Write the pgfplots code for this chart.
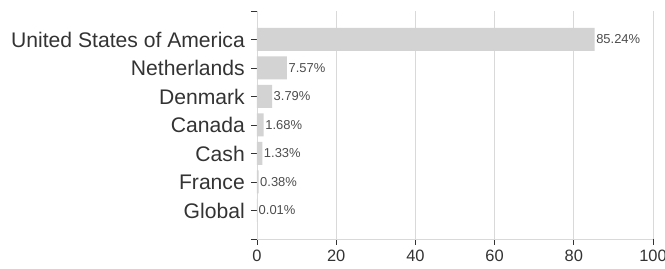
\documentclass[border=0pt]{standalone}
\usepackage{pgfplots}
\pgfplotsset{compat=1.18}
\usepackage{fontspec}
\setmainfont{Liberation Sans}
\usetikzlibrary{calc}
\definecolor{barc}{HTML}{D3D3D3}
\definecolor{txt}{HTML}{333333}
\definecolor{vtxt}{HTML}{4D4D4D}
\definecolor{gridc}{HTML}{D9D9D9}
\begin{document}
\begin{tikzpicture}
\begin{axis}[
  name=ax,
  scale only axis,
  width=396bp, height=228bp,
  xmin=0, xmax=100, ymin=-1, ymax=7,
  xtick={0,20,40,60,80,100},
  ytick={-1,0,1,2,3,4,5,6,7},
  yticklabels={,Global,France,Cash,Canada,Denmark,Netherlands,United States of America,},
  axis x line*=bottom, axis y line*=left,
  axis line style={draw=gridc,-, line width=0.8pt},
  tick align=outside,
  major tick length=6bp,
  tick style={draw=txt, line width=0.7pt},
  xmajorgrids, grid style={draw=gridc, line width=0.8pt},
  /pgf/number format/assume math mode=true,
  yticklabel style={font=\fontsize{21.2}{25}\selectfont, text=txt, inner sep=2bp, xshift=-4bp},
  xticklabel style={font=\fontsize{16.5}{19}\selectfont, text=txt, inner sep=2bp, yshift=-3bp},
  xbar, bar width=23bp,
  nodes near coords,
  point meta=explicit symbolic,
  every node near coord/.style={font=\fontsize{13}{15}\selectfont, text=vtxt, anchor=west, inner sep=1bp, xshift=0.5bp},
  clip=false,
]
\addplot[fill=barc, draw=none] coordinates {
  (85.24,6) [85.24\%]
  (7.57,5) [7.57\%]
  (3.79,4) [3.79\%]
  (1.68,3) [1.68\%]
  (1.33,2) [1.33\%]
  (0.38,1) [0.38\%]
  (0.01,0) [0.01\%]
};
\end{axis}
\pgfresetboundingbox
\path ($(ax.south west)+(-257bp,-30bp)$) rectangle ($(ax.north east)+(12bp,11bp)$);
\end{tikzpicture}
\end{document}
